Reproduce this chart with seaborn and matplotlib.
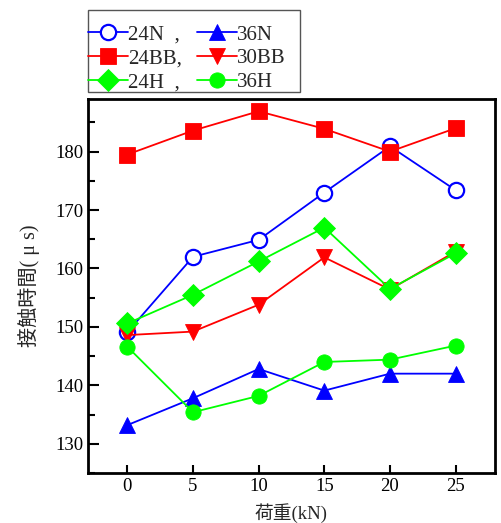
import matplotlib
matplotlib.use("Agg")
import matplotlib.pyplot as plt
import seaborn as sns
import pandas as pd
from matplotlib.ticker import MultipleLocator
from matplotlib.patches import Rectangle

loads = [0, 5, 10, 15, 20, 25]
s_24N = [149.1, 162.0, 164.9, 173.0, 180.9, 173.4]
s_36N = [133.2, 137.8, 142.8, 139.1, 142.0, 142.0]
s_24BB = [179.5, 183.6, 186.9, 183.9, 180.0, 184.0]
s_30BB = [148.6, 149.2, 153.8, 161.9, 156.4, 162.9]
s_24H = [150.6, 155.5, 161.2, 167.0, 156.5, 162.6]
s_36H = [146.6, 135.4, 138.2, 144.0, 144.4, 146.8]
labels = ["24N  ,", "36N", "24BB,", "30BB", "24H  ,", "36H"]
xlabel = "荷重(kN)"
ylabel = "接触時間( μ s)"

sns.set_theme(style="white")
plt.rcParams['font.family'] = ['Liberation Serif', 'Noto Sans CJK JP', 'DejaVu Sans']

W, H = 501, 523
fig = plt.figure(figsize=(W/100, H/100), dpi=100)
ax = fig.add_axes([88/W, 1-473/H, (495-88)/W, (473-99)/H])

series = [
    (s_24N, labels[0], "#0000ff", "o", "white", 11),
    (s_36N, labels[1], "#0000ff", "^", "#0000ff", 11),
    (s_24BB, labels[2], "#ff0000", "s", "#ff0000", 11),
    (s_30BB, labels[3], "#ff0000", "v", "#ff0000", 11),
    (s_24H, labels[4], "#00ff00", "D", "#00ff00", 10.7),
    (s_36H, labels[5], "#00ff00", "o", "#00ff00", 11),
]
handles = {}
zorders = [3, 3, 4, 3, 5, 5]
for (vals, lab, col, mk, fc, ms), z in zip(series, zorders):
    df = pd.DataFrame({"x": loads, "y": vals})
    sns.lineplot(data=df, x="x", y="y", ax=ax, color=col, marker=mk,
                 markersize=ms, markerfacecolor=fc, markeredgecolor=col,
                 markeredgewidth=1.6 if fc == "white" else 0.6,
                 linewidth=1.3, label=lab, zorder=z, legend=False)
    handles[lab] = ax.lines[-1]

ax.set_xlim(-3, 28)
ax.set_ylim(125, 189)
ax.set_xticks(loads)
ax.yaxis.set_major_locator(MultipleLocator(10))
ax.yaxis.set_minor_locator(MultipleLocator(5))
ax.tick_params(axis='both', which='both', direction='in', labelsize=13.5,
               colors='black', width=1.5, top=False, right=False)
ax.tick_params(axis='y', which='major', length=8, left=True)
ax.tick_params(axis='y', which='minor', length=5, left=True)
ax.tick_params(axis='x', which='major', length=6, bottom=True)
for sp in ax.spines.values():
    sp.set_color('black')
    sp.set_linewidth(2)
ax.set_xlabel(xlabel, fontsize=13.5, labelpad=6)
ax.set_ylabel(ylabel, fontsize=14.5, labelpad=11)

# legend frame
fig.patches.append(Rectangle((88/W, 1-92/H), (300-88)/W, (92-10)/H,
                             transform=fig.transFigure, fill=False,
                             edgecolor='#555555', linewidth=1.0))

order = [labels[0], labels[2], labels[4], labels[1], labels[3], labels[5]]
leg = fig.legend([handles[l] for l in order], order, ncol=2,
                 loc='upper left', bbox_to_anchor=(88/W, 1-25/H),
                 borderaxespad=0, fontsize=15, frameon=False,
                 handlelength=1.92, handletextpad=0.0, columnspacing=0.7,
                 labelspacing=0.2, borderpad=0.0)

fig.savefig("out.png", dpi=100)
